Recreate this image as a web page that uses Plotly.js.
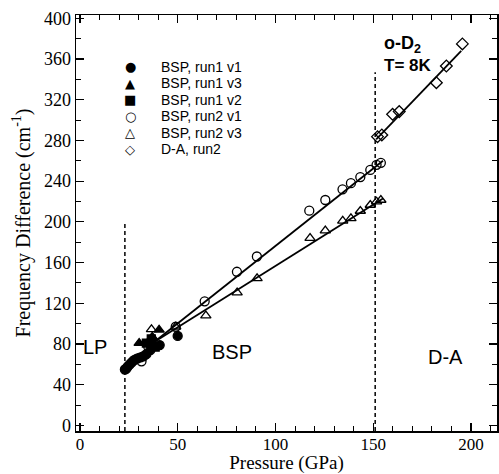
<!DOCTYPE html>
<html>
<head>
<meta charset="utf-8">
<script src="https://cdn.plot.ly/plotly-3.0.1.min.js"></script>
<style>html,body{margin:0;padding:0;background:#fff;}#chart{width:499px;height:474px;}</style>
</head>
<body>
<div id="chart"></div>
<script>
// ---- Data ----
const seriesNames = ["BSP, run1 v1", "BSP, run1 v3", "BSP, run1 v2", "BSP, run2 v1", "BSP, run2 v3", "D-A, run2"];
const seriesGlyphs = ["\u25CF", "\u25B2", "\u25A0", "\u25CB", "\u25B3", "\u25C7"];

const run1v1_P = [23, 23.8, 24.5, 25.5, 26.5, 27.5, 28.5, 29.5, 31, 32.5, 34, 36, 38, 40.8, 50];
const run1v1_F = [55, 56, 58, 60, 62, 64, 65, 66, 67, 68, 70, 74, 78, 79, 88];

const run1v3_P = [30.3, 37, 40.5];
const run1v3_F = [81, 87, 94];

const run1v2_P = [34, 36.5, 38.5];
const run1v2_F = [81, 85, 77];

const run2v1_P = [31.5, 35, 49, 63.8, 80.3, 90.5, 117.3, 125.5, 134.3, 138.6, 143.4, 148.5, 151.7, 153.9];
const run2v1_F = [63, 77, 97, 122, 151, 166, 211, 221.5, 232, 238, 244, 251, 256, 258];

const run2v3_P = [36.6, 49, 64.4, 80.4, 90.6, 117.7, 125.5, 134.4, 138.6, 143.4, 148.5, 151.7, 153.9];
const run2v3_F = [94.5, 97, 108, 130.5, 144.6, 184, 191.4, 201, 203.5, 210.7, 216.6, 219.8, 221.5];

const da_P = [152.2, 154.4, 159.9, 163.3, 182.3, 187.4, 195.6];
const da_F = [283.7, 285.4, 305.7, 308.3, 336.7, 353.1, 374.8];

// fitted lines (end points)
const fitV1_P = [38, 155];
const fitV1_F = [82, 260];
const fitV3_P = [38, 155];
const fitV3_F = [82, 223];
const fitDA_P = [151.5, 195];
const fitDA_F = [281, 368];

// phase boundaries (pressure, top of dashed line)
const boundaryP = [23, 151];
const boundaryTopF = [199, 347];

// tick labels
const xTicks = [0, 50, 100, 150, 200];
const yTicks = [0, 40, 80, 120, 160, 200, 240, 280, 320, 360, 400];

const xRange = [-2, 213.3];
const yRange = [-5.4, 403.2];

// ---- Traces ----
const traces = [];
const mk = (P, F, name, symbol, size) => ({
  x: P, y: F, name: name, type: 'scatter', mode: 'markers', showlegend: false,
  marker: {symbol: symbol, size: size, color: '#000',
           line: {color: '#000', width: 1.3}}
});
const line = (P, F, dash, w) => ({
  x: P, y: F, type: 'scatter', mode: 'lines', showlegend: false, hoverinfo: 'skip',
  line: {color: '#000', width: w, dash: dash}
});

traces.push(line(fitV1_P, fitV1_F, 'solid', 1.8));
traces.push(line(fitV3_P, fitV3_F, 'solid', 1.8));
traces.push(line(fitDA_P, fitDA_F, 'solid', 1.8));
boundaryP.forEach((p, i) => traces.push(line([p, p], [yRange[0], boundaryTopF[i]], '4px,3px', 1.5)));

traces.push(mk(run2v1_P, run2v1_F, seriesNames[3], 'circle-open', 9));
traces.push(mk(run2v3_P, run2v3_F, seriesNames[4], 'triangle-up-open', 9));
traces.push(mk(da_P, da_F, seriesNames[5], 'diamond-open', 9));
traces.push(mk(run1v1_P, run1v1_F, seriesNames[0], 'circle', 9));
traces.push(mk(run1v3_P, run1v3_F, seriesNames[1], 'triangle-up', 9));
traces.push(mk(run1v2_P, run1v2_F, seriesNames[2], 'square', 8));

// ---- Layout ----
const L = 76, T = 15, R = 2, B = 43, W = 499, H = 474;
const plotW = W - L - R, plotH = H - T - B;
const px2paperX = px => (px - L) / plotW;
const px2paperY = py => (H - B - py) / plotH;

const annotations = [];
// legend built as text rows
seriesNames.forEach((nm, i) => {
  const yc = 66.7 + i * 16.5;
  annotations.push({xref: 'paper', yref: 'paper', x: px2paperX(130), y: px2paperY(yc),
    text: seriesGlyphs[i], showarrow: false, xanchor: 'center', yanchor: 'middle',
    font: {family: 'DejaVu Sans', size: 13, color: '#000'}});
  annotations.push({xref: 'paper', yref: 'paper', x: px2paperX(159), y: px2paperY(yc),
    text: nm, showarrow: false, xanchor: 'left', yanchor: 'middle',
    font: {family: 'Liberation Sans, Arial', size: 14, color: '#000'}});
});
// region labels
const regionFont = {family: 'Liberation Sans, Arial', size: 20, color: '#000'};
annotations.push({x: 7.7, y: 77, text: 'LP', showarrow: false, font: regionFont});
annotations.push({x: 78, y: 72, text: 'BSP', showarrow: false, font: regionFont});
annotations.push({x: 187, y: 67, text: 'D-A', showarrow: false, font: regionFont});
annotations.push({xref: 'paper', yref: 'paper', x: px2paperX(382), y: px2paperY(45), xanchor: 'left', yanchor: 'middle',
  text: '<b>o-D<sub>2</sub></b>', showarrow: false, font: {family: 'Liberation Sans, Arial', size: 18, color: '#000'}});
annotations.push({xref: 'paper', yref: 'paper', x: px2paperX(382), y: px2paperY(65), xanchor: 'left', yanchor: 'middle',
  text: '<b>T= 8K</b>', showarrow: false, font: {family: 'Liberation Sans, Arial', size: 17, color: '#000'}});

const tickFont = {family: 'Liberation Serif, Times New Roman, serif', size: 18, color: '#000'};
const xTickFont = {family: 'Liberation Serif, Times New Roman, serif', size: 17, color: '#000'};
const titleFont = {family: 'Liberation Serif, Times New Roman, serif', size: 20, color: '#000'};
const xTitleFont = {family: 'Liberation Serif, Times New Roman, serif', size: 19, color: '#000'};

const layout = {
  width: W, height: H,
  margin: {l: L, r: R, t: T, b: B, pad: 0},
  paper_bgcolor: '#fff', plot_bgcolor: '#fff',
  showlegend: false,
  xaxis: {
    range: xRange, tickvals: xTicks, ticktext: xTicks.map(String),
    ticks: 'inside', ticklen: 8, tickwidth: 1.2, tickcolor: '#000',
    ticklabelstandoff: -3,
    minor: {dtick: 10, tick0: 0, ticks: 'inside', ticklen: 5, tickwidth: 1, tickcolor: '#000', showgrid: false},
    showline: true, linecolor: '#000', linewidth: 1.5, mirror: 'ticks',
    showgrid: false, zeroline: false, tickfont: xTickFont,
    title: {text: 'Pressure (GPa)', font: xTitleFont, standoff: 4}
  },
  yaxis: {
    range: yRange, tickvals: yTicks, ticktext: yTicks.map(String),
    ticks: 'inside', ticklen: 8, tickwidth: 1.2, tickcolor: '#000',
    minor: {dtick: 20, tick0: 0, ticks: 'inside', ticklen: 5, tickwidth: 1, tickcolor: '#000', showgrid: false},
    showline: true, linecolor: '#000', linewidth: 1.5, mirror: 'ticks',
    showgrid: false, zeroline: false, tickfont: tickFont,
    title: {text: 'Frequency Difference (cm<sup>-1</sup>)', font: titleFont, standoff: 8}
  },
  annotations: annotations
};

Plotly.newPlot('chart', traces, layout, {displayModeBar: false, staticPlot: true});
</script>
</body>
</html>
